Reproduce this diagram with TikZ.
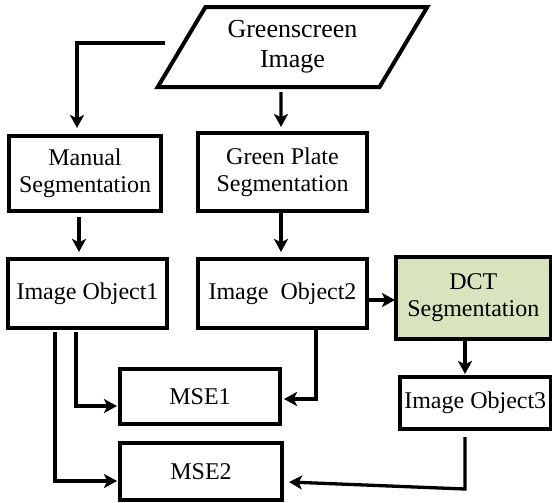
\documentclass[tikz,border=0pt]{standalone}
\usepackage{fontspec}
\setmainfont{Liberation Serif}
\usetikzlibrary{arrows.meta,shapes.geometric}
\definecolor{dctgreen}{RGB}{215,228,189}
\begin{document}
\begin{tikzpicture}[x=0.5pt,y=-0.5pt,
    every node/.style={font=\fontsize{12}{13.5}\selectfont,align=center,inner sep=0pt,outer sep=0pt},
    box/.style={draw,line width=2pt},
    arr/.style={line width=1.65pt,-{Stealth[length=6.5pt,width=7pt,inset=1.6pt]}}]
    \useasboundingbox (0,0) rectangle (552,503);
    % input and the two segmentations
    \node[box,trapezium,trapezium left angle=56,trapezium right angle=124,
        trapezium stretches=true,minimum width=135.5pt,minimum height=40pt,
        font=\fontsize{13}{15}\selectfont] (img) at (292.5,47) {Greenscreen\\Image};
    \node[box,minimum width=76pt,minimum height=37.5pt] (man) at (85,173.5) {Manual\\Segmentation};
    \node[box,minimum width=84.5pt,minimum height=39pt] (gps) at (282.5,172) {Green Plate\\Segmentation};
    % image objects
    \node[box,minimum width=79.5pt,minimum height=34.5pt] (io1) at (87.5,293.5) {Image Object1};
    \node[box,minimum width=84.5pt,minimum height=34.5pt] (io2) at (282.5,293.5) {Image\ \ Object2};
    \node[box,fill=dctgreen,minimum width=77.25pt,minimum height=41pt] (dct) at (473.25,298) {DCT\\Segmentation};
    \node[box,minimum width=75.25pt,minimum height=26pt] (io3) at (475.25,403) {Image Object3};
    % errors
    \node[box,minimum width=80pt,minimum height=27.5pt] (mse1) at (200,396.5) {MSE1};
    \node[box,minimum width=81pt,minimum height=28.5pt] (mse2) at (201,471.5) {MSE2};
    % arrows
    \draw[arr] ([xshift=-8.5pt,yshift=2pt]img.west) -| ([xshift=-4pt,yshift=4pt]man.north);
    \draw[arr] ([xshift=-5.75pt,yshift=-2.5pt]img.south) -- ([xshift=-0.75pt,yshift=3pt]gps.north);
    \draw[arr] ([xshift=-3pt,yshift=-3pt]man.south) -- ([xshift=-4.25pt,yshift=3.5pt]io1.north);
    \draw[arr] ([xshift=-0.75pt,yshift=-1pt]gps.south) -- ([xshift=-0.75pt,yshift=3.5pt]io2.north);
    \draw[arr] ([xshift=0.5pt,yshift=-3.25pt]io2.east) -- ([xshift=-0.5pt,yshift=-3.25pt]io2.east -| dct.west);
    \draw[arr] ([xshift=-4.125pt]dct.south) -- ([xshift=-5.125pt,yshift=1.5pt]io3.north);
    \draw[arr] ([xshift=-5.75pt,yshift=-2pt]io1.south) |- ([xshift=-1.5pt,yshift=-4.75pt]mse1.west);
    \draw[arr] ([xshift=-16.25pt,yshift=-2pt]io1.south) |- ([xshift=-1.5pt,yshift=-4.75pt]mse2.west);
    \draw[arr] ([xshift=16.75pt]io2.south) |- ([xshift=2pt,yshift=-1.25pt]mse1.east);
    \draw[arr] ([xshift=-5.125pt,yshift=-4pt]io3.south) -- ++(0,52) -- ([xshift=3.5pt,yshift=-5.25pt]mse2.east);
\end{tikzpicture}
\end{document}
